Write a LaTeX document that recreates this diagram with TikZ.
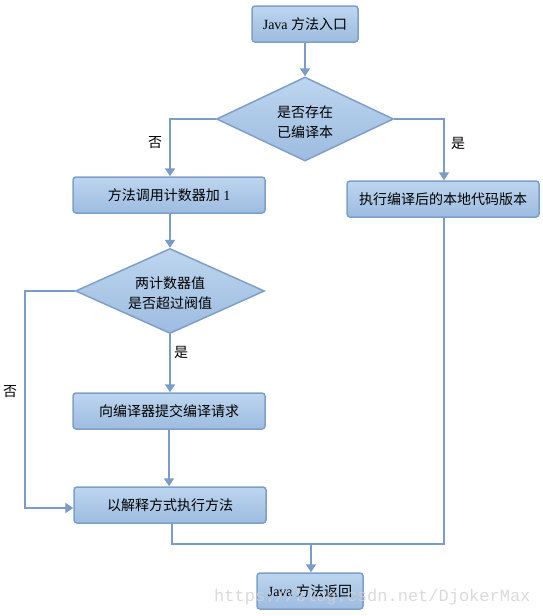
\documentclass[tikz,border=0pt]{standalone}
\usepackage{fontspec}
\setmainfont{Liberation Serif}
\newfontfamily\cjk{Noto Sans CJK SC}
\newfontfamily\wmfont{Liberation Mono}
\usetikzlibrary{shapes.geometric,arrows.meta}
\definecolor{lineblue}{HTML}{7A9CC6}
\definecolor{edgeblue}{HTML}{7E9FC8}
\definecolor{topblue}{HTML}{BDD5EF}
\definecolor{botblue}{HTML}{9DBCE0}
\begin{document}
\begin{tikzpicture}[x=1pt,y=-1pt,
  procbox/.style={draw=edgeblue, line width=1.5pt, rounded corners=3pt,
    top color=topblue, bottom color=botblue, minimum height=36pt,
    inner sep=0pt, font=\fontsize{14}{16}\selectfont},
  decbox/.style={diamond, draw=edgeblue, line width=1.5pt,
    top color=topblue, bottom color=botblue, inner sep=0pt},
  dectext/.style={align=center, inner sep=0pt, font=\cjk\fontsize{14}{20}\selectfont},
  conn/.style={draw=lineblue, line width=2pt},
  arr/.style={conn, -{Triangle[width=10pt,length=8pt]}},
  lbl/.style={font=\cjk\fontsize{14}{16}\selectfont, inner sep=0pt}
]
\useasboundingbox (0,0) rectangle (543,616);
\node[procbox, minimum width=106pt] (start) at (305,24) {Java {\cjk 方法入口}};
\node[decbox, minimum width=177pt, minimum height=84pt] (d1) at (305,119) {};
\node[dectext] (d1t) at (305,122) {是否存在\\已编译本};
\node[procbox, minimum width=192pt] (b2) at (169,195) {{\cjk 方法调用计数器加} 1};
\node[procbox, minimum width=192pt] (bR) at (443,199) {\cjk 执行编译后的本地代码版本};
\node[decbox, minimum width=189pt, minimum height=85pt] (d2) at (170,291) {};
\node[dectext] (d2t) at (170,293) {两计数器值\\是否超过阀值};
\node[procbox, minimum width=192pt] (b4) at (169,411) {\cjk 向编译器提交编译请求};
\node[procbox, minimum width=192pt] (b5) at (170,505) {\cjk 以解释方式执行方法};
\node[procbox, minimum width=106pt] (end) at (310,591) {Java {\cjk 方法返回}};

\coordinate (c1) at (170,119);
\coordinate (c2) at (444,119);
\coordinate (c3) at (25,291);
\coordinate (c4) at (25,508);
\coordinate (c5) at (172,544);
\coordinate (c6) at (444,544);
\coordinate (c7) at (311,544);

\draw[arr] (start.south) -- (d1.north);
\draw[arr] (d1.west) -- (c1) -- (c1 |- b2.north);
\draw[arr] (d1.east) -- (c2) -- (c2 |- bR.north);
\draw[arr] (b2.south -| d2.north) -- (d2.north);
\draw[arr] (d2.west) -- (c3) -- (c4) -- (c4 -| b5.west);
\draw[arr] (d2.south) -- (d2.south |- b4.north);
\draw[arr] (b4.south) -- (b4.south |- b5.north);
\draw[conn] (c5 |- b5.south) -- (c5) -- (c6) -- (c6 |- bR.south);
\draw[arr] (c7) -- (c7 |- end.north);

\node[lbl] (l1) at (155,143) {否};
\node[lbl] (l2) at (458,143) {是};
\node[lbl] (l3) at (181,352) {是};
\node[lbl] (l4) at (10,392) {否};

\node[anchor=west, inner sep=0pt, text=black!18, opacity=0.8,
  font=\wmfont\fontsize{17}{20}\selectfont] (wm) at (214,597) {https://blog.csdn.net/DjokerMax};
\end{tikzpicture}
\end{document}
